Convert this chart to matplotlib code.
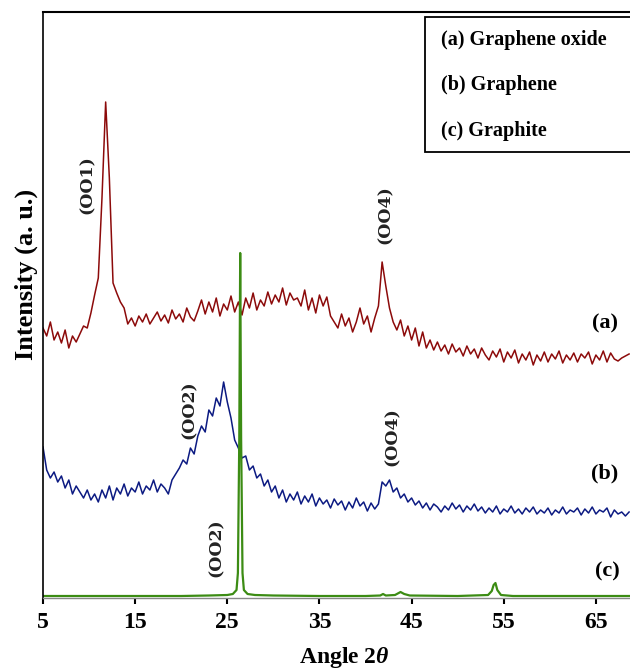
import numpy as np
import matplotlib
matplotlib.use('Agg')
import matplotlib.pyplot as plt
from matplotlib.patches import Rectangle

plt.rcParams['font.family'] = ['Liberation Serif', 'DejaVu Serif']
plt.rcParams['font.weight'] = 'bold'
plt.rcParams['mathtext.fontset'] = 'custom'
plt.rcParams['mathtext.rm'] = 'Liberation Serif:bold'
plt.rcParams['mathtext.it'] = 'Liberation Serif:italic:bold'

# 2theta grid shared by (a) and (b), 0.4 deg steps
angle_ab = np.round(np.arange(5.0, 68.61, 0.4), 1)

# (a) Graphene oxide
graphene_oxide = [
    270, 262, 276, 258, 266, 255, 268, 250, 262, 256, 264, 272, 270, 285, 303,
    320, 400, 496, 420, 315, 305, 296, 290, 274, 280,
    272, 282, 276, 284, 274, 280, 286, 277, 283, 275, 288, 279, 284, 276, 290, 281, 277, 287,
    298, 284, 296, 286, 300, 282, 294, 288, 302, 286, 296, 283, 300, 290, 305, 288, 298, 292,
    306, 294, 303, 296, 310, 293, 305, 298, 300, 292, 308, 288, 300, 285, 303,
    292, 301, 282, 276, 270, 284, 272, 280, 266, 276, 290, 274, 282, 266, 280,
    292, 336, 312, 290, 276, 268, 278, 262, 272, 258, 270, 252, 266, 250, 258,
    248, 256, 247, 253, 244, 254, 246, 250, 242, 252, 244, 249, 240, 250, 243,
    238, 247, 241, 249, 236, 246, 240, 248, 235, 244, 238, 246, 233, 243, 237,
    246, 236, 244, 239, 247, 235, 243, 238, 245, 236, 244, 240, 246, 234, 243,
    238, 247, 236, 245, 239, 237, 240, 242, 244,
]

# (b) Graphene
graphene = [
    151, 128, 120, 126, 116, 122, 110, 118, 104, 112, 106, 100, 108, 98, 104,
    96, 108, 100, 112, 98, 110, 104, 114, 102, 110, 106, 116, 104, 112, 108,
    118, 106, 114, 110, 104, 118, 124, 130, 138, 134, 150, 144, 162, 172, 166,
    188, 182, 200, 192, 216, 196, 180, 158, 150, 140, 142, 128, 132, 120, 124,
    112, 118, 106, 112, 100, 108, 96, 104, 98, 106, 94, 102, 96, 104, 92,
    100, 94, 98, 90, 99, 93, 97, 88, 96, 90, 100, 92, 96, 87, 95,
    89, 94, 116, 112, 118, 106, 110, 100, 104, 96, 100, 93, 97, 90, 95,
    88, 94, 91, 86, 92, 88, 95, 89, 93, 86, 92, 88, 94, 87, 91,
    85, 90, 86, 92, 84, 89, 86, 92, 85, 89, 84, 90, 86, 91, 84,
    88, 85, 90, 83, 88, 85, 91, 84, 88, 86, 90, 83, 89, 85, 91,
    84, 88, 86, 90, 81, 88, 84, 86, 82, 86,
]

# (c) Graphite
angle_c = [5, 10, 15, 20, 23, 25, 25.6, 26.0, 26.15, 26.3, 26.4, 26.5, 26.65, 26.8, 27.2,
           28, 30, 35, 40, 41.6, 41.9, 42.2, 43.2, 43.8, 44.2, 44.8, 50,
           53.3, 53.7, 53.9, 54.1, 54.3, 54.7, 56, 60, 65, 68.7]
graphite = [2, 2, 2, 2, 2.5, 3, 4, 8, 25, 160, 345, 160, 25, 8, 4,
            3, 2.5, 2, 2, 2.5, 4, 2.5, 3, 6, 4, 2.5, 2,
            3, 7, 13, 15, 8, 3, 2, 2, 2, 2]

fig = plt.figure(figsize=(6.3, 6.7), dpi=100)
ax = fig.add_axes([43 / 630, 72 / 670, 587 / 630, 586 / 670])

ax.plot(angle_ab, graphene_oxide, color='#8c0a0a', lw=1.1)
ax.plot(angle_ab, graphene, color='#0c1a82', lw=1.1)
ax.plot(angle_c, graphite, color='#3c8c14', lw=1.6)

ax.set_xlim(5, 68.7)
ax.set_ylim(0, 586)
ax.set_xticks([5, 15, 25, 35, 45, 55, 65])
ax.set_yticks([])
ax.tick_params(axis='x', direction='out', length=4, width=1.5, labelsize=17, pad=6)
for t in ax.get_xticklabels():
    t.set_fontweight('bold')

ax.spines['right'].set_visible(False)
ax.spines['left'].set_linewidth(1.2)
ax.spines['top'].set_linewidth(1.5)
ax.spines['bottom'].set_color('#888888')
ax.spines['bottom'].set_linewidth(1.0)

ax.set_xlabel(r'Angle $\mathit{2\theta}$', fontsize=17, fontweight='bold')
ax.xaxis.set_label_coords(0.514, -0.08)
ax.set_ylabel('Intensity (a. u.)', fontsize=19, fontweight='bold')
ax.yaxis.set_label_coords(-0.008, 0.553)

# peak labels
lab_kw = dict(rotation=90, ha='center', va='center', fontsize=12.5,
              fontweight='bold', color='#222222', family=['DejaVu Serif'])
ax.text(9.8, 413, '(OO1)', **lab_kw)
ax.text(42.1, 383, '(OO4)', **lab_kw)
ax.text(20.9, 188, '(OO2)', **lab_kw)
ax.text(42.9, 161, '(OO4)', **lab_kw)
ax.text(23.8, 50, '(OO2)', **lab_kw)

# curve tags
for x, y, s in [(66.0, 275, '(a)'), (65.9, 125, '(b)'), (66.2, 27, '(c)')]:
    ax.text(x, y, s, ha='center', va='center', fontsize=16, fontweight='bold')

# legend box
box = Rectangle((0.651, 0.761), 0.4, 0.230, transform=ax.transAxes,
                facecolor='white', edgecolor='black', lw=1.3, clip_on=False, zorder=5)
ax.add_patch(box)
for y, s in [(0.952, '(a) Graphene oxide'), (0.875, '(b) Graphene'), (0.797, '(c) Graphite')]:
    ax.text(0.678, y, s, transform=ax.transAxes, ha='left', va='center',
            fontsize=14.5, fontweight='bold', zorder=6)

fig.savefig('out.png', dpi=100)
